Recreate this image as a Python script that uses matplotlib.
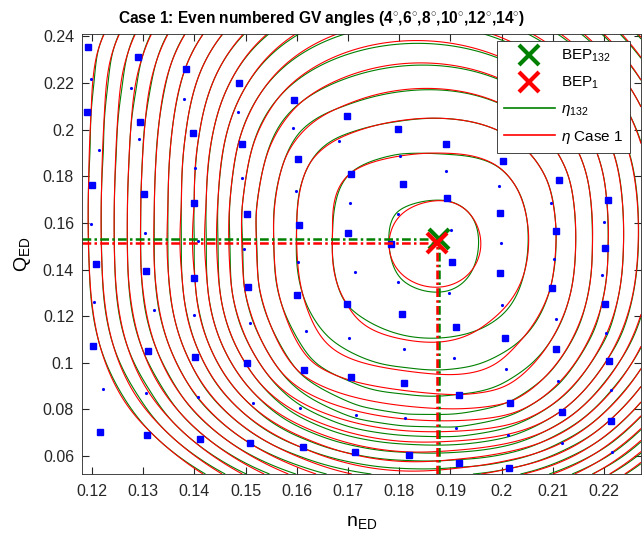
import numpy as np
import matplotlib
matplotlib.use("Agg")
import matplotlib.pyplot as plt
from matplotlib.lines import Line2D
from matplotlib.ticker import FuncFormatter

plt.rcParams['font.family'] = ['Liberation Sans', 'DejaVu Sans']
plt.rcParams['mathtext.fontset'] = 'custom'
plt.rcParams['mathtext.rm'] = 'Liberation Sans'
plt.rcParams['mathtext.it'] = 'Liberation Sans:italic'
plt.rcParams['mathtext.bf'] = 'Liberation Sans:bold'

# operating points at even GV angles, one n_ED column per line (14 deg first)
n_even = [0.1193, 0.1190, 0.1200, 0.1207, 0.1202, 0.1216,
          0.1289, 0.1294, 0.1302, 0.1305, 0.1310, 0.1307,
          0.1384, 0.1397, 0.1399, 0.1400, 0.1401, 0.1410,
          0.1487, 0.1493, 0.1502, 0.1504, 0.1503, 0.1509,
          0.1594, 0.1603, 0.1604, 0.1600, 0.1614, 0.1612,
          0.1698, 0.1706, 0.1700, 0.1698, 0.1705, 0.1714,
          0.1798, 0.1808, 0.1783, 0.1805, 0.1810, 0.1819,
          0.1892, 0.1894, 0.1902, 0.1910, 0.1916, 0.1916,
          0.2002, 0.1997, 0.1996, 0.2006, 0.2017, 0.2015,
          0.2111, 0.2107, 0.2098, 0.2106, 0.2118,
          0.2208, 0.2201, 0.2202, 0.2209, 0.2214]
q_even = [0.2355, 0.2076, 0.1762, 0.1422, 0.1072, 0.0704,
          0.2310, 0.2032, 0.1722, 0.1393, 0.1049, 0.0691,
          0.2262, 0.1985, 0.1684, 0.1362, 0.1026, 0.0673,
          0.2199, 0.1939, 0.1639, 0.1325, 0.1000, 0.0657,
          0.2127, 0.1872, 0.1590, 0.1292, 0.0969, 0.0637,
          0.2059, 0.1810, 0.1555, 0.1250, 0.0937, 0.0617,
          0.2003, 0.1768, 0.1509, 0.1208, 0.0912, 0.0605,
          0.1939, 0.1705, 0.1433, 0.1153, 0.0861, 0.0571,
          0.1866, 0.1641, 0.1383, 0.1107, 0.0827, 0.0550,
          0.1785, 0.1565, 0.1322, 0.1057, 0.0790,
          0.1699, 0.1492, 0.1252, 0.1007, 0.0751]
eta_even = [83.12, 83.34, 83.63, 83.75, 83.23, 81.89,
            84.85, 85.32, 85.62, 85.67, 85.18, 83.30,
            86.53, 87.26, 87.49, 87.48, 86.77, 84.75,
            88.26, 89.13, 89.68, 89.62, 88.57, 86.03,
            89.84, 90.78, 91.04, 90.89, 90.16, 87.03,
            90.69, 91.51, 91.65, 91.50, 90.58, 87.64,
            91.12, 91.80, 92.01, 91.73, 90.70, 87.85,
            91.37, 91.98, 92.12, 91.62, 90.48, 87.29,
            91.40, 91.78, 91.77, 91.20, 89.94, 86.55,
            90.76, 90.99, 90.97, 90.26, 88.44,
            89.45, 89.61, 89.39, 88.41, 86.42]

# operating points at odd GV angles (13 deg first)
n_odd = [0.1198, 0.1214, 0.1198, 0.1203, 0.1221,
         0.1276, 0.1291, 0.1304, 0.1321, 0.1306,
         0.1380, 0.1401, 0.1407, 0.1400, 0.1407,
         0.1485, 0.1493, 0.1496, 0.1509, 0.1514,
         0.1592, 0.1598, 0.1603, 0.1618, 0.1607,
         0.1682, 0.1704, 0.1713, 0.1701, 0.1716,
         0.1801, 0.1797, 0.1798, 0.1809, 0.1812,
         0.1892, 0.1901, 0.1897, 0.1907, 0.1911,
         0.1995, 0.1998, 0.2000, 0.2009, 0.2013,
         0.2097, 0.2102, 0.2106, 0.2110, 0.2117,
         0.2200, 0.2196, 0.2204, 0.2214, 0.2216]
q_odd = [0.2215, 0.1913, 0.1595, 0.1260, 0.0887,
         0.2179, 0.1958, 0.1557, 0.1227, 0.0871,
         0.2131, 0.1834, 0.1522, 0.1206, 0.0854,
         0.2076, 0.1793, 0.1486, 0.1172, 0.0828,
         0.2006, 0.1738, 0.1432, 0.1137, 0.0804,
         0.1951, 0.1685, 0.1389, 0.1105, 0.0777,
         0.1888, 0.1639, 0.1346, 0.1059, 0.0762,
         0.1822, 0.1569, 0.1298, 0.1019, 0.0719,
         0.1759, 0.1512, 0.1246, 0.0974, 0.0689,
         0.1685, 0.1445, 0.1186, 0.0922, 0.0656,
         0.1602, 0.1377, 0.1129, 0.0882, 0.0617]
eta_odd = [83.38, 83.84, 83.60, 83.58, 82.94,
           84.81, 85.32, 85.67, 85.82, 84.33,
           86.74, 87.48, 87.65, 87.28, 86.04,
           88.64, 89.36, 89.53, 89.39, 87.64,
           90.32, 90.93, 91.03, 90.75, 88.87,
           91.06, 91.63, 91.68, 91.16, 89.65,
           91.52, 92.01, 91.97, 91.31, 89.84,
           91.69, 92.13, 91.98, 91.17, 89.43,
           91.65, 91.81, 91.59, 90.71, 88.58,
           91.04, 91.03, 90.64, 89.60, 86.94,
           89.62, 89.65, 89.07, 87.50, 85.05]

bep_132 = (0.1877, 0.1530)
bep_1 = (0.1874, 0.1512)
eta_levels = np.arange(83.5, 92.01, 0.5)

xlim = (0.1180, 0.2272)
ylim = (0.0523, 0.2410)
GREEN = (0, 0.5, 0)


def scaled(n, q):
    return (np.asarray(n, float) - 0.17) / 0.01, (np.asarray(q, float) - 0.15) / 0.02


def kernel(r):
    return np.where(r > 0, r * r * np.log(np.maximum(r, 1e-12)), 0.0)


def tail(u, v):
    return np.column_stack([np.ones_like(u), u, v, u * u, u * v, v * v])


def spline_surface(n, q, eta, gn, gq):
    # thin plate spline with a quadratic trend
    u, v = scaled(n, q)
    k = kernel(np.hypot(u[:, None] - u[None, :], v[:, None] - v[None, :]))
    p = tail(u, v)
    m = p.shape[1]
    a = np.block([[k, p], [p.T, np.zeros((m, m))]])
    sol = np.linalg.solve(a, np.concatenate([np.asarray(eta, float), np.zeros(m)]))
    w, c = sol[:len(u)], sol[len(u):]
    gu, gv = scaled(gn.ravel(), gq.ravel())
    z = kernel(np.hypot(gu[:, None] - u[None, :], gv[:, None] - v[None, :])) @ w
    z += tail(gu, gv) @ c
    return z.reshape(gn.shape)


gn, gq = np.meshgrid(np.linspace(*xlim, 280), np.linspace(*ylim, 280))
eta_132 = spline_surface(n_even + n_odd, q_even + q_odd, eta_even + eta_odd, gn, gq)
eta_1 = spline_surface(n_even, q_even, eta_even, gn, gq)

fig = plt.figure(figsize=(6.43, 5.4), dpi=100)
ax = fig.add_axes([0.1271, 0.1222, 0.8698, 0.8148])

ax.contour(gn, gq, eta_132, levels=eta_levels, colors=[GREEN], linewidths=0.8)
ax.contour(gn, gq, eta_1, levels=eta_levels, colors=['red'], linewidths=0.8)

ax.plot(n_even, q_even, 's', color='blue', ms=4.5, mec='blue')
ax.plot(n_odd, q_odd, '.', color='blue', ms=2.5)

# guide lines from the axes to each best efficiency point
dash = (3.5, 1.3, 1, 1.3)
for bep, col in [(bep_132, GREEN), (bep_1, 'red')]:
    ax.plot([xlim[0], bep[0]], [bep[1], bep[1]], color=col, lw=1.8, dashes=dash)
    ax.plot([bep[0], bep[0]], [ylim[0], bep[1]], color=col, lw=1.8, dashes=dash)
h1, = ax.plot(*bep_132, 'x', color=GREEN, ms=14, mew=3)
h2, = ax.plot(*bep_1, 'x', color='red', ms=14, mew=3)

ax.set_xlim(*xlim)
ax.set_ylim(*ylim)
ax.set_xticks(np.arange(0.12, 0.2201, 0.01))
ax.set_yticks(np.arange(0.06, 0.2401, 0.02))
fmt = FuncFormatter(lambda val, _: '%g' % round(val, 3))
ax.xaxis.set_major_formatter(fmt)
ax.yaxis.set_major_formatter(fmt)
ax.tick_params(direction='in', top=True, right=True, length=5, labelsize=11.5, colors='#262626')
ax.tick_params(axis='x', pad=7)
ax.tick_params(axis='y', pad=5.5)
for s in ax.spines.values():
    s.set_color('#262626')
    s.set_linewidth(0.6)

ax.set_xlabel(r'n$_{\mathrm{ED}}$', fontsize=14, labelpad=11)
ax.set_ylabel(r'Q$_{\mathrm{ED}}$', fontsize=14, labelpad=7)
fig.text(0.5, 1 - 19 / 540,
         r'Case 1: Even numbered GV angles (4$^{\circ}$,6$^{\circ}$,8$^{\circ}$,10$^{\circ}$,12$^{\circ}$,14$^{\circ}$)',
         ha='center', va='center', fontsize=11.2, fontweight='bold')

handles = [h1, h2, Line2D([], [], color=GREEN, lw=1.2), Line2D([], [], color='red', lw=1.2)]
labels = [r'BEP$_{132}$', r'BEP$_{1}$', r'$\eta_{132}$', r'$\eta$ Case 1']
leg = ax.legend(handles, labels, loc='upper right', bbox_to_anchor=(0.980, 0.984),
                fontsize=11, fancybox=False, framealpha=1, edgecolor='#262626',
                handlelength=3.3, handletextpad=0.4, borderaxespad=0,
                borderpad=0.45, labelspacing=0.7)
leg.get_frame().set_linewidth(0.6)

fig.savefig('out.png', dpi=100)
